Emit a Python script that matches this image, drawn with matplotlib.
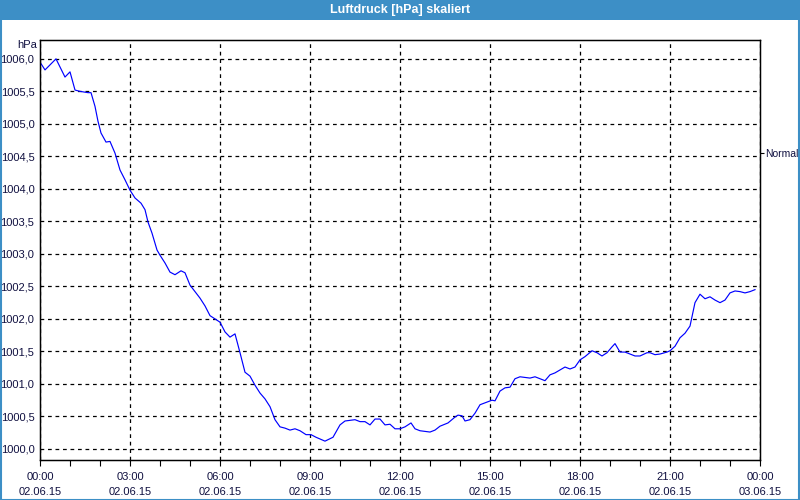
import matplotlib
matplotlib.use("Agg")
import matplotlib.pyplot as plt
import matplotlib.patches as patches
from matplotlib.ticker import FixedLocator, MultipleLocator, FuncFormatter

# hours since 02.06.15 00:00
hours = [0.0, 0.167, 0.533, 0.833, 1.0, 1.167, 1.333, 1.6, 1.7, 1.833, 1.933,
         2.033, 2.2, 2.333, 2.5, 2.667, 2.833, 3.0, 3.167, 3.367, 3.5, 3.6,
         3.733, 3.9, 4.0, 4.167, 4.333, 4.5, 4.7, 4.833, 5.0, 5.167, 5.333,
         5.5, 5.667, 5.833, 6.0, 6.167, 6.333, 6.5, 6.667, 6.833, 7.0, 7.167,
         7.333, 7.5, 7.667, 7.833, 8.0, 8.167, 8.333, 8.5, 8.667, 8.867,
         9.033, 9.2, 9.5, 9.767, 10.0, 10.167, 10.5, 10.667, 10.833, 11.0,
         11.167, 11.333, 11.5, 11.667, 11.833, 12.0, 12.167, 12.367, 12.5,
         12.667, 13.0, 13.167, 13.333, 13.6, 13.833, 13.933, 14.067, 14.167,
         14.333, 14.5, 14.667, 14.9, 15.067, 15.167, 15.333, 15.5, 15.667,
         15.833, 16.0, 16.333, 16.5, 16.833, 17.0, 17.167, 17.5, 17.667,
         17.833, 18.0, 18.167, 18.4, 18.567, 18.733, 18.9, 19.067, 19.167,
         19.333, 19.5, 19.833, 20.0, 20.233, 20.333, 20.5, 20.667, 20.9,
         21.0, 21.167, 21.333, 21.5, 21.667, 21.833, 22.0, 22.167, 22.333,
         22.5, 22.667, 22.833, 23.0, 23.167, 23.333, 23.5, 23.667, 23.833]

pressure = [1005.95, 1005.83, 1006.00, 1005.72, 1005.80, 1005.52, 1005.50,
            1005.48, 1005.48, 1005.27, 1005.04, 1004.86, 1004.72, 1004.73,
            1004.55, 1004.29, 1004.14, 1003.98, 1003.86, 1003.78, 1003.68,
            1003.49, 1003.32, 1003.06, 1002.98, 1002.86, 1002.72, 1002.68,
            1002.74, 1002.71, 1002.52, 1002.42, 1002.32, 1002.20, 1002.05,
            1002.00, 1001.95, 1001.80, 1001.72, 1001.77, 1001.48, 1001.18,
            1001.12, 1000.98, 1000.86, 1000.77, 1000.65, 1000.45, 1000.34,
            1000.32, 1000.29, 1000.31, 1000.28, 1000.22, 1000.22, 1000.18,
            1000.12, 1000.18, 1000.37, 1000.43, 1000.45, 1000.42, 1000.42,
            1000.37, 1000.46, 1000.46, 1000.37, 1000.38, 1000.31, 1000.31,
            1000.34, 1000.40, 1000.31, 1000.28, 1000.26, 1000.29, 1000.35,
            1000.40, 1000.49, 1000.52, 1000.51, 1000.43, 1000.45, 1000.55,
            1000.68, 1000.72, 1000.75, 1000.74, 1000.89, 1000.94, 1000.95,
            1001.08, 1001.11, 1001.09, 1001.11, 1001.05, 1001.14, 1001.17,
            1001.26, 1001.23, 1001.26, 1001.37, 1001.42, 1001.51, 1001.48,
            1001.43, 1001.48, 1001.57, 1001.62, 1001.49, 1001.49, 1001.43,
            1001.43, 1001.48, 1001.48, 1001.45, 1001.46, 1001.49, 1001.51,
            1001.58, 1001.71, 1001.78, 1001.89, 1002.25, 1002.38, 1002.31,
            1002.34, 1002.29, 1002.25, 1002.29, 1002.40, 1002.43, 1002.42,
            1002.40, 1002.42, 1002.45]

x_ticks = [0, 3, 6, 9, 12, 15, 18, 21, 24]
x_labels = ["00:00\n02.06.15", "03:00\n02.06.15", "06:00\n02.06.15",
            "09:00\n02.06.15", "12:00\n02.06.15", "15:00\n02.06.15",
            "18:00\n02.06.15", "21:00\n02.06.15", "00:00\n03.06.15"]
y_ticks = [1000.0, 1000.5, 1001.0, 1001.5, 1002.0, 1002.5, 1003.0,
           1003.5, 1004.0, 1004.5, 1005.0, 1005.5, 1006.0]
normal_level = 1004.55
title = "Luftdruck [hPa] skaliert"
unit = "hPa"

frame_blue = "#3d8fc6"
text_col = "#101040"

plt.rcParams["font.family"] = ["Liberation Sans", "DejaVu Sans"]

fig = plt.figure(figsize=(8, 5), dpi=100)
fig.patch.set_facecolor("white")

# title bar and window frame
fig.patches.append(patches.Rectangle((0, 0.96), 1, 0.04, transform=fig.transFigure,
                                     facecolor=frame_blue, edgecolor="none"))
fig.patches.append(patches.Rectangle((0.001, 0.001), 0.998, 0.998, transform=fig.transFigure,
                                     facecolor="none", edgecolor=frame_blue, linewidth=1.5))
fig.text(0.5, 0.98, title, color="white", fontsize=9, fontweight="bold",
         ha="center", va="center")

ax = fig.add_axes([0.05, 0.08, 0.90, 0.84])
ax.plot(hours, pressure, color="#0000ff", linewidth=0.85)

ax.set_xlim(0, 24)
ax.set_ylim(999.83, 1006.29)

ax.xaxis.set_major_locator(FixedLocator(x_ticks))
ax.set_xticklabels(x_labels, linespacing=1.55)
ax.xaxis.set_minor_locator(MultipleLocator(1))
ax.yaxis.set_major_locator(FixedLocator(y_ticks))
ax.yaxis.set_major_formatter(FuncFormatter(lambda v, p: f"{v:.1f}".replace(".", ",")))

ax.tick_params(axis="x", which="both", length=4, width=0.8, labelsize=8,
               labelcolor=text_col, pad=5)
ax.tick_params(axis="y", length=0, labelsize=8, labelcolor=text_col, pad=4)

ax.grid(True, which="major", color="black", linestyle=(0, (3, 3)), linewidth=0.9)
for s in ax.spines.values():
    s.set_linewidth(1)
    s.set_color("black")

# 'Normal' marker on the right spine
ax2 = ax.twinx()
ax2.set_ylim(ax.get_ylim())
ax2.set_yticks([normal_level])
ax2.set_yticklabels(["Normal"])
ax2.tick_params(axis="y", length=3, width=0.8, labelsize=7.5, labelcolor=text_col, pad=0.5)

fig.text(0.047, 0.91, unit, fontsize=8, color=text_col, ha="right", va="center")

fig.savefig("out.png", dpi=100, facecolor=fig.get_facecolor())
